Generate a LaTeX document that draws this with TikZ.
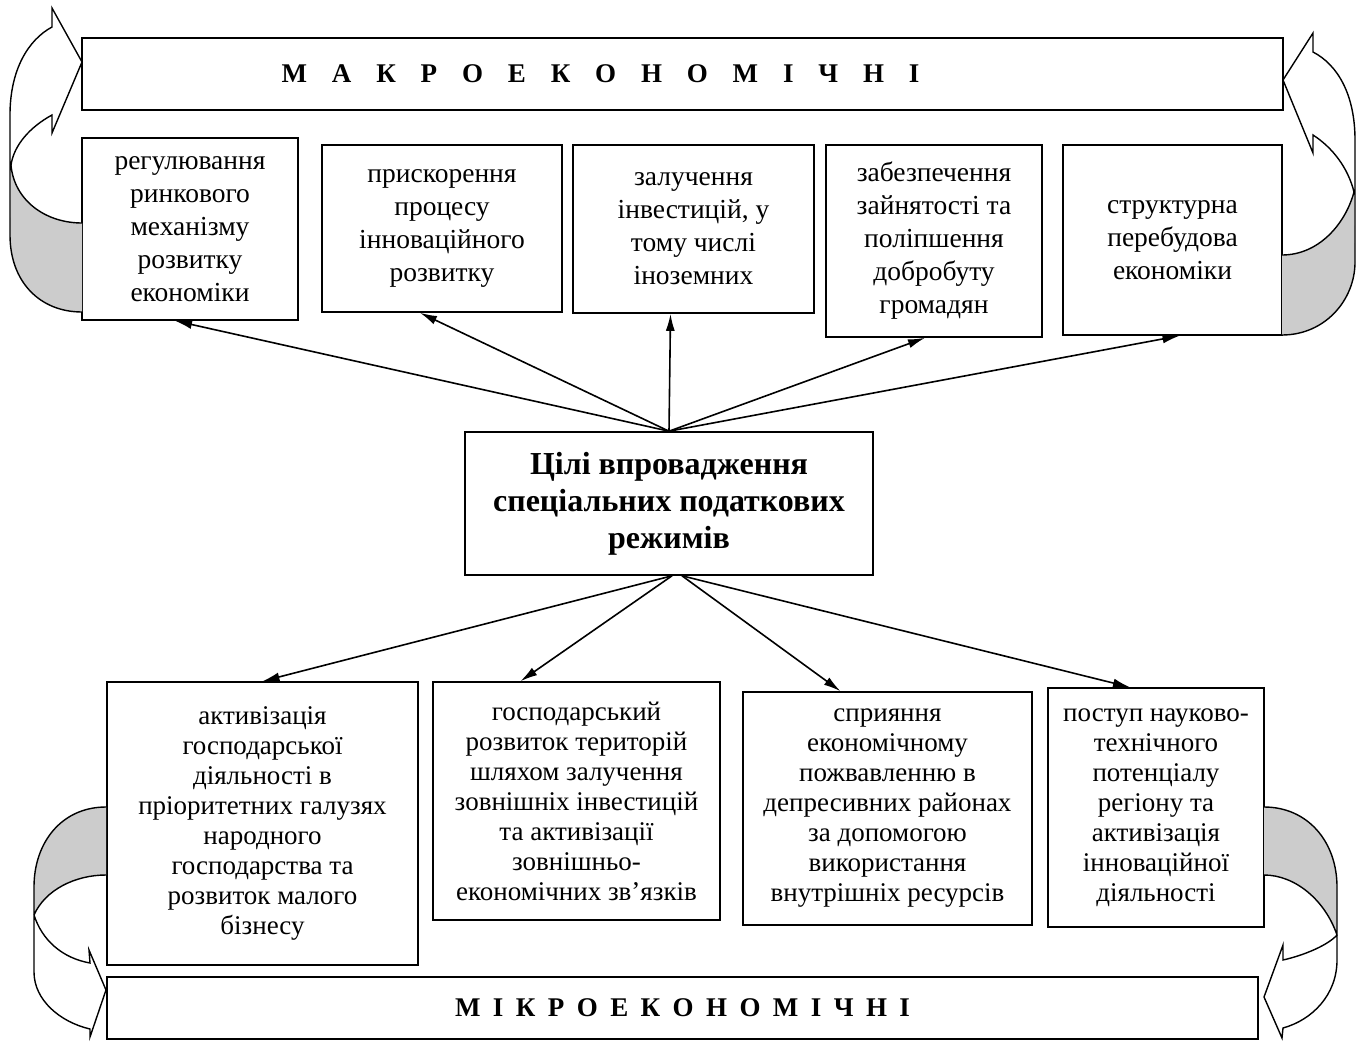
\documentclass[tikz,border=0pt]{standalone}
\usepackage{fontspec}
\setmainfont{Liberation Serif}
\usetikzlibrary{arrows.meta}

\begin{document}
\begin{tikzpicture}[x=1pt,y=-1pt,
    taskbox/.style={draw, line width=1.6pt, align=center, inner sep=0pt,
        font=\fontsize{27}{30}\selectfont},
    topbox/.style={taskbox, font=\fontsize{27.5}{33}\selectfont},
    arr/.style={line width=1.6pt, -{Latex[length=17pt,width=9pt]}},
    ribbon/.style={fill=black!20}]
    \useasboundingbox (0,0) rectangle (1362,1041);

    % levels
    \node[taskbox, minimum width=1201pt, minimum height=72pt] at (682.5,74) (macro)
        {\bfseries\addfontfeature{LetterSpace=67}М А К Р О Е К О Н О М І Ч Н І\hspace{164pt}};
    \node[taskbox, minimum width=1151pt, minimum height=62pt] at (682.5,1008) (micro)
        {\bfseries\addfontfeature{LetterSpace=21}М І К Р О Е К О Н О М І Ч Н І};

    % macro goals
    \node[topbox, minimum width=216pt, minimum height=182pt] at (190,229)    (reg)    {регулювання\\ринкового\\механізму\\розвитку\\економіки};
    \node[topbox, minimum width=240pt, minimum height=167pt] at (442,228.5)  (innov)  {прискорення\\процесу\\інноваційного\\розвитку};
    \node[topbox, minimum width=241pt, minimum height=168pt] at (693.5,229)  (invest) {залучення\\інвестицій, у\\тому числі\\іноземних};
    \node[topbox, minimum width=216pt, minimum height=192pt] at (934,241)    (employ) {забезпечення\\зайнятості та\\поліпшення\\добробуту\\громадян};
    \node[topbox, minimum width=219pt, minimum height=190pt] at (1172.5,240) (struct) {структурна\\перебудова\\економіки};

    \node[taskbox, minimum width=408pt, minimum height=143pt,
        font=\fontsize{32}{37}\selectfont\bfseries] at (669,503.5) (goal)
        {Цілі впровадження\\спеціальних податкових\\режимів};

    % micro goals
    \node[taskbox, minimum width=311pt, minimum height=283pt] at (262.5,823.5) (activ)  {активізація\\господарської\\діяльності в\\пріоритетних галузях\\народного\\господарства та\\розвиток малого\\бізнесу};
    \node[taskbox, minimum width=287pt, minimum height=238pt] at (576.5,801)   (terr)   {господарський\\розвиток територій\\шляхом залучення\\зовнішніх інвестицій\\та активізації\\зовнішньо-\\економічних зв’язків};
    \node[taskbox, minimum width=289pt, minimum height=233pt] at (887.5,808.5) (depres) {сприяння\\економічному\\пожвавленню в\\депресивних районах\\за допомогою\\використання\\внутрішніх ресурсів};
    \node[taskbox, minimum width=216pt, minimum height=239pt] at (1156,807.5)  (sci)    {поступ науково-\\технічного\\потенціалу\\регіону та\\активізація\\інноваційної\\діяльності};

    \draw[arr] (goal.north) -- ([xshift=-15pt]reg.south);
    \draw[arr] (goal.north) -- ([xshift=-22pt]innov.south);
    \draw[arr] (goal.north) -- ([xshift=-23pt]invest.south);
    \draw[arr] (goal.north) -- ([xshift=-9pt]employ.south);
    \draw[arr] (goal.north) -- ([xshift=7pt]struct.south);
    \draw[arr] ([xshift=3pt]goal.south) -- (activ.north);
    \draw[arr] ([xshift=3pt]goal.south) -- ([xshift=-56pt]terr.north);
    \draw[arr] ([xshift=13pt]goal.south) -- ([xshift=-47pt]depres.north);
    \draw[arr] ([xshift=13pt]goal.south) -- ([xshift=-26pt]sci.north);

    % curved block arrows
    \begin{scope}[line width=1.4pt]
    \fill[ribbon] (11,165) .. controls (14,200) and (45,223) .. (82,223) -- (82,312)
        .. controls (40,312) and (10,282) .. (10,235) -- cycle;
    \draw (82,312) .. controls (40,312) and (10,282) .. (10,235) -- (10,115)
        .. controls (10,70) and (28,40) .. (52,27) -- (52,8) -- (82,62) -- (52,133) -- (52,115)
        .. controls (30,127) and (14,145) .. (11,165) .. controls (14,200) and (45,223) .. (82,223);

    \fill[ribbon] (1354,192) .. controls (1345,225) and (1318,255) .. (1282,255) -- (1282,335)
        .. controls (1325,335) and (1355,300) .. (1355,262) -- cycle;
    \draw (1282,335) .. controls (1325,335) and (1355,300) .. (1355,262) -- (1355,140)
        .. controls (1355,95) and (1338,65) .. (1313,52) -- (1313,33) -- (1283,80) -- (1313,153) -- (1313,135)
        .. controls (1333,148) and (1348,168) .. (1354,192) .. controls (1345,225) and (1318,255) .. (1282,255);

    \fill[ribbon] (106,807) .. controls (62,807) and (34,842) .. (34,887) -- (34,915)
        .. controls (45,890) and (75,875) .. (106,875) -- cycle;
    \draw (106,807) .. controls (62,807) and (34,842) .. (34,887) -- (34,972)
        .. controls (34,1000) and (60,1022) .. (90,1029) -- (90,1037) -- (106,990) -- (89,950) -- (90,963)
        .. controls (62,958) and (42,940) .. (34,915) .. controls (45,890) and (75,875) .. (106,875);

    \fill[ribbon] (1264,807) .. controls (1308,807) and (1337,842) .. (1337,887) -- (1337,935)
        .. controls (1325,900) and (1295,875) .. (1264,875) -- cycle;
    \draw (1264,807) .. controls (1308,807) and (1337,842) .. (1337,887) -- (1337,960)
        .. controls (1337,995) and (1312,1020) .. (1283,1028) -- (1282,1038) -- (1264,997) -- (1283,945) -- (1283,960)
        .. controls (1305,955) and (1328,945) .. (1337,935) .. controls (1325,900) and (1295,875) .. (1264,875);
    \end{scope}
\end{tikzpicture}
\end{document}
